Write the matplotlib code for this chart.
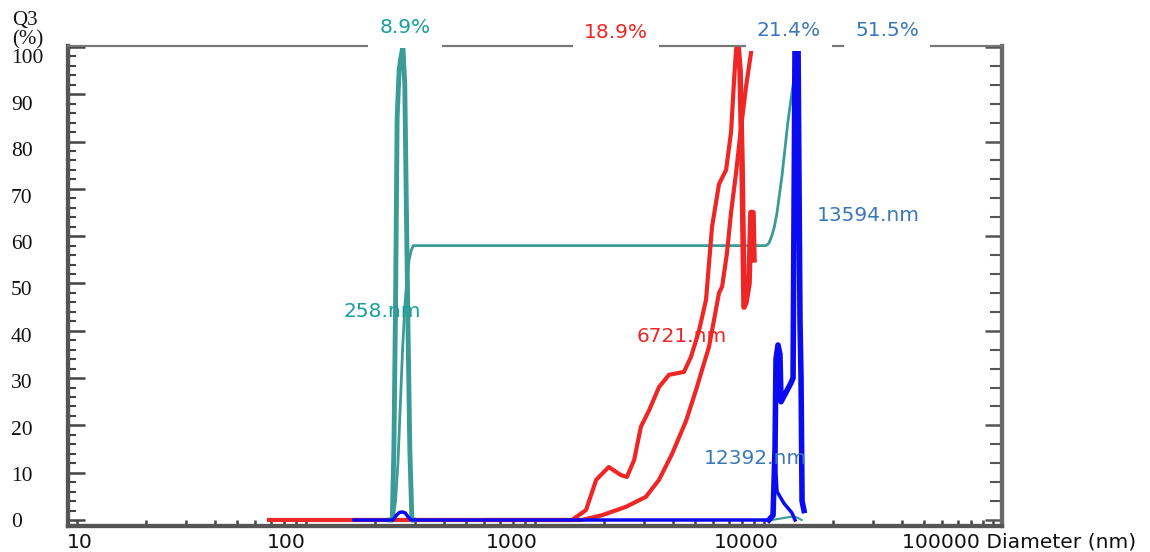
import matplotlib
matplotlib.use("Agg")
import matplotlib.pyplot as plt
from matplotlib import ticker as mtick
from matplotlib import transforms as mtrans

# --- data (diameter in nm, Q3 in %) ---
teal_freq_nm = [232, 238, 242, 246, 250, 255, 260, 265, 270, 274, 279, 284, 290, 296]
teal_freq_q = [0, 0, 15, 45, 85, 95, 98, 100, 92, 68, 40, 15, 0, 0]

teal_cum_nm = [240, 246, 252, 258, 264, 270, 276, 282, 288, 294,
               10200, 10500, 10800, 11100, 11400, 12000, 12700, 13300, 13700, 14000]
teal_cum_q = [0, 4, 12, 24, 36, 45, 51, 55, 57, 58,
              58, 58.5, 60, 62, 65, 73, 84, 91, 95, 100]

teal_bump_nm = [10800, 11800, 12800, 13300, 14000, 14600]
teal_bump_q = [0, 0.3, 0.6, 0.7, 0.5, 0]

red_a_nm = [69, 1450, 1670, 1850, 2100, 2370, 2520, 2710, 2900, 3150, 3480, 3850,
            4470, 4800, 5200, 5580, 5930, 6360, 6830, 7180, 7400, 7550, 7620]
red_a_q = [0, 0, 2.1, 8.5, 11.2, 9.5, 9.1, 12.7, 19.7, 23.2, 28.1, 30.7,
           31.3, 34.5, 40, 46.5, 62, 71, 74, 82, 93, 99.4, 100.5]

red_b_nm = [620, 1600, 1960, 2500, 3050, 3480, 3970, 4570, 5050, 5360, 5750,
            6050, 6360, 6560, 6890, 7180, 7550, 7940, 8340, 8770, 8860]
red_b_q = [0, 0, 1, 2.8, 4.9, 8.5, 14, 21, 27.5, 31.7, 36.6,
           42.3, 48, 49.3, 56.4, 65, 73.4, 83, 91.5, 98.7, 100.5]

red_c_nm = [7700, 7860, 8020, 8180, 8340, 8600, 8770, 8950, 9040]
red_c_q = [100.5, 95, 75, 45, 46, 50, 65, 65, 55]

blue_base_nm = [162, 240, 248, 256, 263, 271, 280, 288, 10500]
blue_base_q = [0, 0, 1, 1.6, 1.7, 1.5, 0.6, 0, 0]

blue_peak_nm = [10500, 10950, 11170, 11280, 11510, 11740, 11870, 12480, 13120,
                13390, 13660, 14080, 14360, 14510, 14660, 14950]
blue_peak_q = [0, 1, 15, 34, 37, 35, 25, 27, 29, 30, 101, 101, 42, 30, 4, 2]

blue_tail_nm = [11170, 11280, 11400, 12230, 13250, 13660]
blue_tail_q = [22, 10, 6, 3.5, 1.5, 0]

x_ticks = [10, 100, 1000, 10000, 100000]
x_tick_labels = ["10", "100", "1000", "10000", "100000 Diameter (nm)"]
y_ticks = [0, 10, 20, 30, 40, 50, 60, 70, 80, 90, 100]

TEAL = "#3a9b97"
TEAL_TXT = "#179f9b"
RED = "#ee2626"
BLUE = "#0b0bf2"
BLUE_TXT = "#3b78b9"

fig = plt.figure(figsize=(11.5, 5.52), dpi=100)
ax = fig.add_axes([68 / 1150, 26 / 552, 934 / 1150, 480 / 552])

ax.plot(teal_cum_nm, teal_cum_q, color=TEAL, lw=2, zorder=2)
ax.plot(teal_bump_nm, teal_bump_q, color=TEAL, lw=1.5, zorder=2)
ax.plot(red_a_nm, red_a_q, color=RED, lw=3, zorder=3)
ax.plot(red_b_nm, red_b_q, color=RED, lw=3, zorder=3)
ax.plot(red_c_nm, red_c_q, color=RED, lw=4, zorder=3)
ax.plot(teal_freq_nm, teal_freq_q, color=TEAL, lw=3.5, zorder=3.5)
ax.plot(blue_base_nm, blue_base_q, color=BLUE, lw=2.5, zorder=4)
ax.plot(blue_tail_nm, blue_tail_q, color=BLUE, lw=2.5, zorder=4)
ax.plot(blue_peak_nm, blue_peak_q, color=BLUE, lw=4, zorder=4)

ax.set_xscale("log")
ax.set_xlim(9.135, 109450)
ax.set_ylim(-1.27, 100.2)

# ticks: inward, no default labels
ax.xaxis.set_major_locator(mtick.LogLocator(base=10))
ax.xaxis.set_minor_locator(mtick.LogLocator(base=10, subs=range(2, 10)))
ax.xaxis.set_major_formatter(mtick.NullFormatter())
ax.xaxis.set_minor_formatter(mtick.NullFormatter())
ax.yaxis.set_major_locator(mtick.MultipleLocator(10))
ax.yaxis.set_minor_locator(mtick.MultipleLocator(2))
ax.yaxis.set_major_formatter(mtick.NullFormatter())
ax.tick_params(axis="x", which="both", direction="in", length=4, width=1.8,
               color="#444444", top=False)
ax.tick_params(axis="y", which="major", direction="in", length=12, width=1.8,
               color="#444444")
ax.tick_params(axis="y", which="minor", direction="in", length=6, width=1.5,
               color="#444444")

ax2 = ax.twinx()
ax2.set_ylim(ax.get_ylim())
ax2.yaxis.set_major_locator(mtick.MultipleLocator(20))
ax2.yaxis.set_minor_locator(mtick.MultipleLocator(4))
ax2.yaxis.set_major_formatter(mtick.NullFormatter())
ax2.tick_params(axis="y", which="major", direction="in", length=12, width=1.8,
                color="#555555")
ax2.tick_params(axis="y", which="minor", direction="in", length=9, width=1.5,
                color="#555555")

for a in (ax, ax2):
    a.spines["left"].set(linewidth=3, color="#555555")
    a.spines["bottom"].set(linewidth=3, color="#555555")
    a.spines["right"].set(linewidth=3, color="#6a6a6a")
    a.spines["top"].set(linewidth=1.5, color="#777777")
    a.set_zorder(1)
ax2.patch.set_visible(False)

# x tick labels (shifted the way the instrument printout places them)
x_offsets = [(3, "center"), (0, "right"), (3, "right"), (15, "right"), (-91, "left")]
xtrans = mtrans.blended_transform_factory(ax.transData, ax.transAxes)
for v, lab, (dx, ha) in zip(x_ticks, x_tick_labels, x_offsets):
    t = mtrans.offset_copy(xtrans, fig=fig, x=dx, y=-16, units="dots")
    ax.text(v, 0, lab, transform=t, ha=ha, va="center", fontsize=14.6,
            family="DejaVu Sans", color="#111111", clip_on=False)

# y tick labels in serif at the far left
ytrans = mtrans.blended_transform_factory(fig.transFigure, ax.transData)
for v in y_ticks:
    t = mtrans.offset_copy(ytrans, fig=fig, x=0, y=-(3 + 0.09 * v), units="dots")
    ax.text(11 / 1150, v, str(v), transform=t, ha="left", va="center",
            fontsize=15.5, family="Liberation Serif", color="#111111", clip_on=False)

fig.text(12 / 1150, 1 - 20 / 552, "Q3", ha="left", va="center", fontsize=15,
         family="Liberation Serif", color="#111111")
fig.text(12 / 1150, 1 - 40 / 552, "(%)", ha="left", va="center", fontsize=15,
         family="Liberation Serif", color="#111111")

# percent labels above the frame, white boxes break the top line
box = dict(boxstyle="square,pad=0.55", fc="white", ec="none")
for x, y, s, c in [(270.5, 104.2, "8.9%", TEAL_TXT), (2258, 103.0, "18.9%", RED),
                   (12860, 103.4, "21.4%", BLUE_TXT), (34440, 103.4, "51.5%", BLUE_TXT)]:
    ax2.text(x, y, s, color=c, fontsize=14.5, ha="center", va="center",
             bbox=box, clip_on=False, zorder=10)

# size annotations
for x, y, s, c in [(28460, 64.3, "13594.nm", BLUE_TXT), (214.7, 44.0, "258.nm", TEAL_TXT),
                   (4385, 38.7, "6721.nm", RED), (9135, 13.1, "12392.nm", BLUE_TXT)]:
    ax2.text(x, y, s, color=c, fontsize=14.5, ha="center", va="center", zorder=10)

fig.savefig("out.png", dpi=100)
